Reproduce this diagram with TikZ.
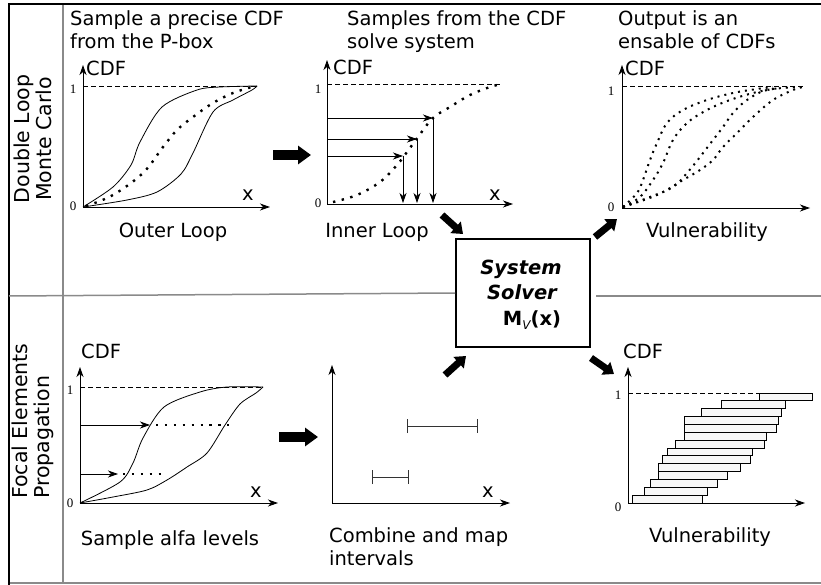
\documentclass[tikz,border=0pt]{standalone}
\usepackage{fontspec}
\setmainfont{DejaVu Sans}
\newfontfamily\numfont{Liberation Serif}
\usetikzlibrary{arrows.meta}
\definecolor{frameg}{HTML}{8A8A8A}
\tikzset{
  axis/.style={line width=0.9pt,-{Stealth[length=10pt,width=7pt,inset=3pt]}},
  smallarr/.style={line width=0.8pt,-{Stealth[length=10pt,width=7pt,inset=3pt]}},
  lbl/.style={font=\fontsize{19.5}{24}\selectfont,inner sep=0pt},
  num/.style={font=\numfont\fontsize{13}{14}\selectfont,inner sep=0pt},
  dline/.style={dash pattern=on 5pt off 3pt,line width=0.7pt},
  dotc/.style={line width=2.4pt,dash pattern=on 2.4pt off 6.5pt},
  dotf/.style={line width=2pt,dash pattern=on 2pt off 5pt},
  bound/.style={line width=0.8pt},
  bigarrow/.style={line width=10pt,-{Triangle[length=13pt,width=18pt]}},
  smallblock/.style={line width=7pt,-{Triangle[length=10pt,width=15pt]}},
  grayline/.style={draw=frameg,line width=1.5pt},
  bar/.style={draw=black,line width=0.8pt,fill=gray!6},
  ivl/.style={draw=black!80,line width=0.9pt,{Bar[width=14pt]}-{Bar[width=14pt]}}
}
\begin{document}
\begin{tikzpicture}[x=1pt,y=-1pt]
\useasboundingbox (0,0) rectangle (821,585);
% ---------- frame ----------
\draw[grayline] (9,583) -- (821,583);
\draw[grayline] (63,4) -- (63,583);
\draw[line width=2.5pt] (9,585) -- (9,4) -- (821,4);
% ---------- system solver ----------
\node[draw,line width=2pt,minimum width=134pt,minimum height=108pt,inner sep=0pt] (sys) at (523,293) {};
\draw[grayline] (9,296) -- (sys.west);
\draw[grayline] (596,296) -- (821,296);
\node[lbl,anchor=base,font=\fontsize{19.5}{24}\selectfont\bfseries\itshape] (sys1) at (521,274) {System};
\node[lbl,anchor=base,font=\fontsize{19.5}{24}\selectfont\bfseries\itshape] (sys2) at (522,299) {Solver};
\node[lbl,anchor=base] (sys3) at (532,325) {\textbf{M}\raisebox{-4pt}{\fontsize{12}{12}\selectfont\itshape V}\textbf{(x)}};
% ---------- row labels ----------
\node[lbl,rotate=90,align=center,font=\fontsize{20.5}{22}\selectfont] (row1) at (33,139) {Double Loop\\Monte Carlo};
\node[lbl,rotate=90,align=left,anchor=west,font=\fontsize{20.5}{22}\selectfont] (row2) at (33,499) {Focal Elements\\Propagation};
% ---------- plot 1 ----------
\node[lbl,anchor=base west] (t1a) at (70,26) {Sample a precise CDF};
\node[lbl,anchor=base west] (t1b) at (70,49) {from the P-box};
\coordinate (o1) at (83,207);
\draw[axis] (o1) -- (83,65);
\draw[axis] (o1) -- (270,207);
\draw[dline] (83,86) -- (257,86);
\node[num] (one1) at (73,89) {1};
\node[num] (zero1) at (73,206) {0};
\node[lbl,anchor=base west] (cdf1) at (86,76) {CDF};
\node[lbl] (x1) at (248,195) {x};
\node[lbl,anchor=base] (cap1) at (173,237) {Outer Loop};
\draw[bound] plot[smooth,tension=0.5] coordinates {(83,207) (113,187) (131,165) (140,142) (162,107) (197,90) (220,87) (257,86)};
\draw[bound] plot[smooth,tension=0.5] coordinates {(83,207) (127,200) (157,192) (181,174) (193,153) (213,112) (233,100) (252,90) (257,86)};
\draw[dotc] plot[smooth,tension=0.6] coordinates {(86,206) (113,195) (143,173) (163,147) (177,130) (193,117) (213,103) (233,93) (252,87)};
% arrow 1 -> 2
\coordinate (a12s) at (273,155);
\coordinate (a12e) at (311,155);
\draw[bigarrow] (a12s) -- (a12e);
% ---------- plot 2 ----------
\node[lbl,anchor=base west] (t2a) at (347,26) {Samples from the CDF};
\node[lbl,anchor=base west] (t2b) at (347,49) {solve system};
\coordinate (o2) at (327,204);
\draw[axis] (o2) -- (327,60);
\draw[axis] (o2) -- (513,204);
\draw[dline] (327,84) -- (500,84);
\node[num] (one2) at (318,89) {1};
\node[num] (zero2) at (318,203) {0};
\node[lbl,anchor=base west] (cdf2) at (333,75) {CDF};
\node[lbl] (x2) at (495,195) {x};
\node[lbl,anchor=base] (cap2) at (377,237) {Inner Loop};
\draw[dotc] plot[smooth,tension=0.6] coordinates {(333,202) (357,195) (380,182) (397,165) (407,152) (418,137) (433,118) (450,107) (470,95) (490,87) (502,84)};
\coordinate (p1) at (403,156);
\coordinate (p2) at (417,139);
\coordinate (p3) at (433,118);
\draw[smallarr] (327,156) -- (p1);
\draw[smallarr] (327,139) -- (p2);
\draw[smallarr] (327,118) -- (p3);
\draw[smallarr] (p1) -- (403,203);
\draw[smallarr] (p2) -- (417,203);
\draw[smallarr] (p3) -- (433,203);
% ---------- plot 3 ----------
\node[lbl,anchor=base west] (t3a) at (618,26) {Output is an};
\node[lbl,anchor=base west] (t3b) at (618,49) {ensable of CDFs};
\coordinate (o3) at (622,208);
\draw[axis] (o3) -- (622,65);
\draw[axis] (o3) -- (810,208);
\draw[dline] (622,86) -- (803,86);
\node[num] (one3) at (611,91) {1};
\node[num] (zero3) at (611,207) {0};
\node[lbl,anchor=base west] (cdf3) at (625,76) {CDF};
\node[lbl,anchor=base] (cap3) at (707,237) {Vulnerability};
\draw[dotf] plot[smooth,tension=0.6] coordinates {(623,207) (637,193) (643,180) (650,160) (657,143) (667,123) (683,110) (707,100) (733,93) (757,89) (773,87)};
\draw[dotf] plot[smooth,tension=0.6] coordinates {(623,207) (640,197) (653,180) (663,163) (673,140) (687,123) (707,110) (730,100) (757,92) (780,88)};
\draw[dotf] plot[smooth,tension=0.6] coordinates {(623,207) (650,197) (673,187) (687,173) (700,157) (713,140) (723,127) (733,113) (747,100) (767,90) (800,87)};
\draw[dotf] plot[smooth,tension=0.6] coordinates {(623,207) (657,195) (683,180) (700,170) (713,160) (723,147) (737,133) (753,117) (773,100) (793,90) (803,87)};
% block arrows around system solver
\coordinate (b1s) at (442,215); \coordinate (b1e) at (463,234);
\coordinate (b2s) at (595,237); \coordinate (b2e) at (617,219);
\coordinate (b3s) at (445,375); \coordinate (b3e) at (466,356);
\coordinate (b4s) at (591,358); \coordinate (b4e) at (614,374);
\draw[smallblock] (b1s) -- (b1e);
\draw[smallblock] (b2s) -- (b2e);
\draw[smallblock] (b3s) -- (b3e);
\draw[smallblock] (b4s) -- (b4e);
% ---------- plot 4 ----------
\coordinate (o4) at (80,503);
\draw[axis] (o4) -- (80,367);
\draw[axis] (o4) -- (278,503);
\draw[dline] (80,387) -- (263,387);
\node[num] (one4) at (70,390) {1};
\node[num] (zero4) at (70,503) {0};
\node[lbl,anchor=base west] (cdf4) at (81,358) {CDF};
\node[lbl] (x4) at (256,492) {x};
\node[lbl,anchor=base] (cap4) at (170,545) {Sample alfa levels};
\draw[bound] plot[smooth,tension=0.5] coordinates {(80,503) (120,482) (133,463) (143,438) (164,407) (200,392) (227,387) (263,387)};
\draw[bound] plot[smooth,tension=0.5] coordinates {(80,503) (113,497) (147,490) (167,480) (187,467) (207,453) (225,425) (240,404) (256,393) (263,387)};
\coordinate (q1) at (150,425);
\coordinate (q2) at (118,474);
\draw[smallarr] (80,425) -- (q1);
\draw[smallarr] (80,474) -- (q2);
\draw[dotc] (q1) ++(6,0) -- (229,425);
\draw[dotc] (q2) ++(5,0) -- (167,474);
% arrow 4 -> 5
\coordinate (a45s) at (279,437);
\coordinate (a45e) at (318,437);
\draw[bigarrow] (a45s) -- (a45e);
% ---------- plot 5 ----------
\coordinate (o5) at (332,503);
\draw[axis] (o5) -- (332,365);
\draw[axis] (o5) -- (510,503);
\node[lbl] (x5) at (488,492) {x};
\draw[ivl] (407,426) -- (478,426);
\draw[ivl] (372,477) -- (409,477);
\node[lbl,anchor=base west] (cap5a) at (329,542) {Combine and map};
\node[lbl,anchor=base west] (cap5b) at (329,565) {intervals};
% ---------- plot 6 ----------
\coordinate (o6) at (628,503);
\draw[dline] (628,393) -- (760,393);
\foreach \l/\r [count=\i] in {632/702,644/707,650/717,658/727,658/740,662/750,667/752,675/764,684/766,684/776,684/778,701/781,721/785,759/812}{
  \draw[bar] (\l,{503-(\i-1)*7.857}) rectangle (\r,{503-\i*7.857});
}
\draw[axis] (o6) -- (628,367);
\draw[axis] (o6) -- (805,503);
\node[num] (one6) at (618,395) {1};
\node[num] (zero6) at (618,507) {0};
\node[lbl,anchor=base west] (cdf6) at (623,358) {CDF};
\node[lbl,anchor=base] (cap6) at (710,542) {Vulnerability};
\end{tikzpicture}
\end{document}
